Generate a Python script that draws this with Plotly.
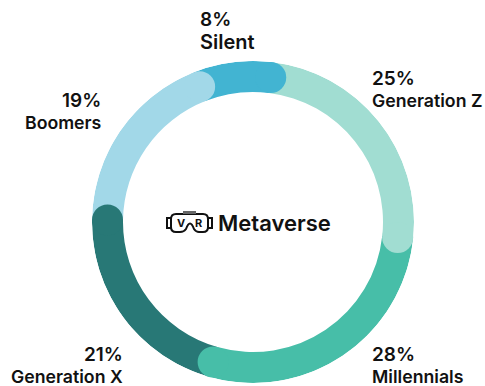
import plotly.graph_objects as go

# values as labelled on the chart (they add up to 101)
names = ["Generation Z", "Millennials", "Generation X", "Boomers", "Silent"]
values = [25, 28, 21, 19, 8]
colors = ["#A1DDD2", "#47BEA8", "#287876", "#A2D8E8", "#42B4D2"]

# label anchors in pixels: x, y of percent line, y of name line, side
label_x = [370, 370, 125, 103, 198]
label_y = [78, 354, 354, 100, 19]
name_y = [100, 376, 376, 122, 42]
label_side = ["left", "left", "right", "right", "left"]
name_size = [17.7, 17.7, 17.7, 17.7, 20]

W, H = 485, 386
START_ANGLE = 7
INNER, OUTER = 130, 161
FONT = "Inter"

# turn values into clockwise angles
total = sum(values)
starts, sweeps, ends = [], [], []
angle = START_ANGLE
for v in values:
    sweep = v / total * 360
    starts.append(angle)
    sweeps.append(sweep)
    angle += sweep
    ends.append(angle)
mids = [s + w / 2 for s, w in zip(starts, sweeps)]

fig = go.Figure()

fig.add_trace(go.Barpolar(
    theta=mids,
    width=sweeps,
    base=[INNER] * len(values),
    r=[OUTER - INNER] * len(values),
    marker=dict(color=colors, line=dict(width=0)),
    hoverinfo="skip",
))

# round end caps, each one sits on top of the next slice
fig.add_trace(go.Scatterpolar(
    theta=ends,
    r=[(INNER + OUTER) / 2] * len(values),
    mode="markers",
    marker=dict(size=OUTER - INNER, color=colors, line=dict(width=0)),
    hoverinfo="skip",
))

for i, name in enumerate(names):
    anchor = label_side[i]
    fig.add_annotation(x=label_x[i], y=label_y[i], text=f"{values[i]}%", xref="x", yref="y",
                       xanchor=anchor, yanchor="middle", showarrow=False,
                       font=dict(family=FONT, size=19, color="#111111", weight=600))
    fig.add_annotation(x=label_x[i], y=name_y[i], text=name, xref="x", yref="y",
                       xanchor=anchor, yanchor="middle", showarrow=False,
                       font=dict(family=FONT, size=name_size[i], color="#111111", weight=600))

fig.add_annotation(x=216, y=223, text="Metaverse", xref="x", yref="y",
                   xanchor="left", yanchor="middle", showarrow=False,
                   font=dict(family=FONT, size=22, color="#111111", weight=600))

# VR headset icon
stroke = dict(color="#111111", width=2)
goggles = ("M 176 214 H 203 Q 208 214 208 219 V 227 Q 208 232 203 232 H 199 "
           "Q 196 232 194 229 Q 190 218 186 229 Q 184 232 180 232 H 176 "
           "Q 171 232 171 227 V 219 Q 171 214 176 214 Z")
fig.add_shape(type="path", path=goggles, xref="x", yref="y", line=stroke)
fig.add_shape(type="path", path="M 171 218 H 167 V 228 H 171", xref="x", yref="y", line=stroke)
fig.add_shape(type="path", path="M 208 218 H 212 V 228 H 208", xref="x", yref="y", line=stroke)
fig.add_shape(type="path", path="M 184 213 V 212 H 195 V 213 Z", xref="x", yref="y",
              fillcolor="#666666", line=dict(color="#666666", width=2))
fig.add_annotation(x=181, y=223, text="V", xref="x", yref="y", showarrow=False,
                   font=dict(family=FONT, size=11, color="#111111", weight=700))
fig.add_annotation(x=198.5, y=223, text="R", xref="x", yref="y", showarrow=False,
                   font=dict(family=FONT, size=11, color="#111111", weight=700))

fig.update_layout(
    width=W,
    height=H,
    margin=dict(l=0, r=0, t=0, b=0),
    paper_bgcolor="white",
    plot_bgcolor="white",
    showlegend=False,
    xaxis=dict(range=[0, W], visible=False, fixedrange=True),
    yaxis=dict(range=[H, 0], visible=False, fixedrange=True),
    polar=dict(
        domain=dict(x=[92 / W, 414 / W], y=[(H - 383) / H, (H - 61) / H]),
        bgcolor="rgba(0,0,0,0)",
        radialaxis=dict(range=[0, OUTER], visible=False),
        angularaxis=dict(rotation=90, direction="clockwise", visible=False),
    ),
)

# the page body has a default margin that would shift the chart
fig.write_html("out.html", config=dict(displayModeBar=False),
               post_script="document.body.style.margin='0';")
